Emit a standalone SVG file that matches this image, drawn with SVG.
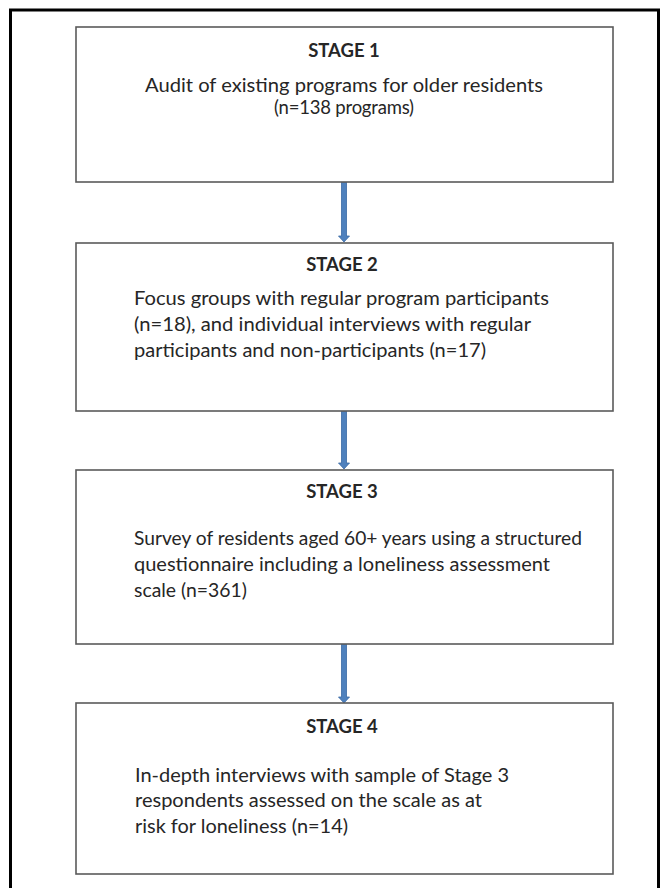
<svg xmlns="http://www.w3.org/2000/svg" width="669" height="888" viewBox="0 0 669 888">
<defs>
<style>
.box{fill:#fff;stroke:#5a5a5a;stroke-width:1.6}
.t{font-family:Lato,"Open Sans","Liberation Sans",sans-serif;font-size:18.5px;fill:#262626}
.h{font-family:Lato,"Open Sans","Liberation Sans",sans-serif;font-size:18.5px;font-weight:bold;fill:#262626}
.shaft{fill:#4f81bd;stroke:#3a6aa5;stroke-width:0.8}
</style>
</defs>
<rect width="669" height="888" fill="#fff"/>
<path d="M10.5,888 V10 H658.5 V888" fill="none" stroke="#000" stroke-width="3"/>
<g id="connectors">
<path class="shaft" d="M341.5,182 h5 v54 h3 l-5.5,6 l-5.5,-6 h3 z"/>
<path class="shaft" d="M341.5,411 h5 v52 h3 l-5.5,6 l-5.5,-6 h3 z"/>
<path class="shaft" d="M341.5,644 h5 v53 h3 l-5.5,6 l-5.5,-6 h3 z"/>
</g>
<g id="stage1">
<rect class="box" x="76" y="27" width="537" height="155"/>
<text class="h" x="344" y="57" text-anchor="middle">STAGE 1</text>
<text class="t" x="344" y="92" text-anchor="middle" textLength="398" lengthAdjust="spacingAndGlyphs">Audit of existing programs for older residents</text>
<text class="t" x="344" y="114" text-anchor="middle" textLength="140" lengthAdjust="spacing">(n=138 programs)</text>
</g>
<g id="stage2">
<rect class="box" x="76" y="243" width="537" height="168"/>
<text class="h" x="342" y="271" text-anchor="middle">STAGE 2</text>
<text class="t" x="134" y="305" textLength="415" lengthAdjust="spacingAndGlyphs">Focus groups with regular program participants</text>
<text class="t" x="134" y="331" textLength="397" lengthAdjust="spacingAndGlyphs">(n=18), and individual interviews with regular</text>
<text class="t" x="134" y="357" textLength="352" lengthAdjust="spacingAndGlyphs">participants and non-participants (n=17)</text>
</g>
<g id="stage3">
<rect class="box" x="76" y="470" width="537" height="174"/>
<text class="h" x="342" y="498" text-anchor="middle">STAGE 3</text>
<text class="t" x="134" y="545" textLength="448" lengthAdjust="spacingAndGlyphs">Survey of residents aged 60+ years using a structured</text>
<text class="t" x="134" y="571" textLength="416" lengthAdjust="spacingAndGlyphs">questionnaire including a loneliness assessment</text>
<text class="t" x="134" y="597" textLength="113" lengthAdjust="spacingAndGlyphs">scale (n=361)</text>
</g>
<g id="stage4">
<rect class="box" x="76" y="703" width="537" height="171"/>
<text class="h" x="342" y="733" text-anchor="middle">STAGE 4</text>
<text class="t" x="135" y="782" textLength="374" lengthAdjust="spacingAndGlyphs">In-depth interviews with sample of Stage 3</text>
<text class="t" x="135" y="807" textLength="347" lengthAdjust="spacingAndGlyphs">respondents assessed on the scale as at</text>
<text class="t" x="135" y="833" textLength="213" lengthAdjust="spacingAndGlyphs">risk for loneliness (n=14)</text>
</g>
</svg>
